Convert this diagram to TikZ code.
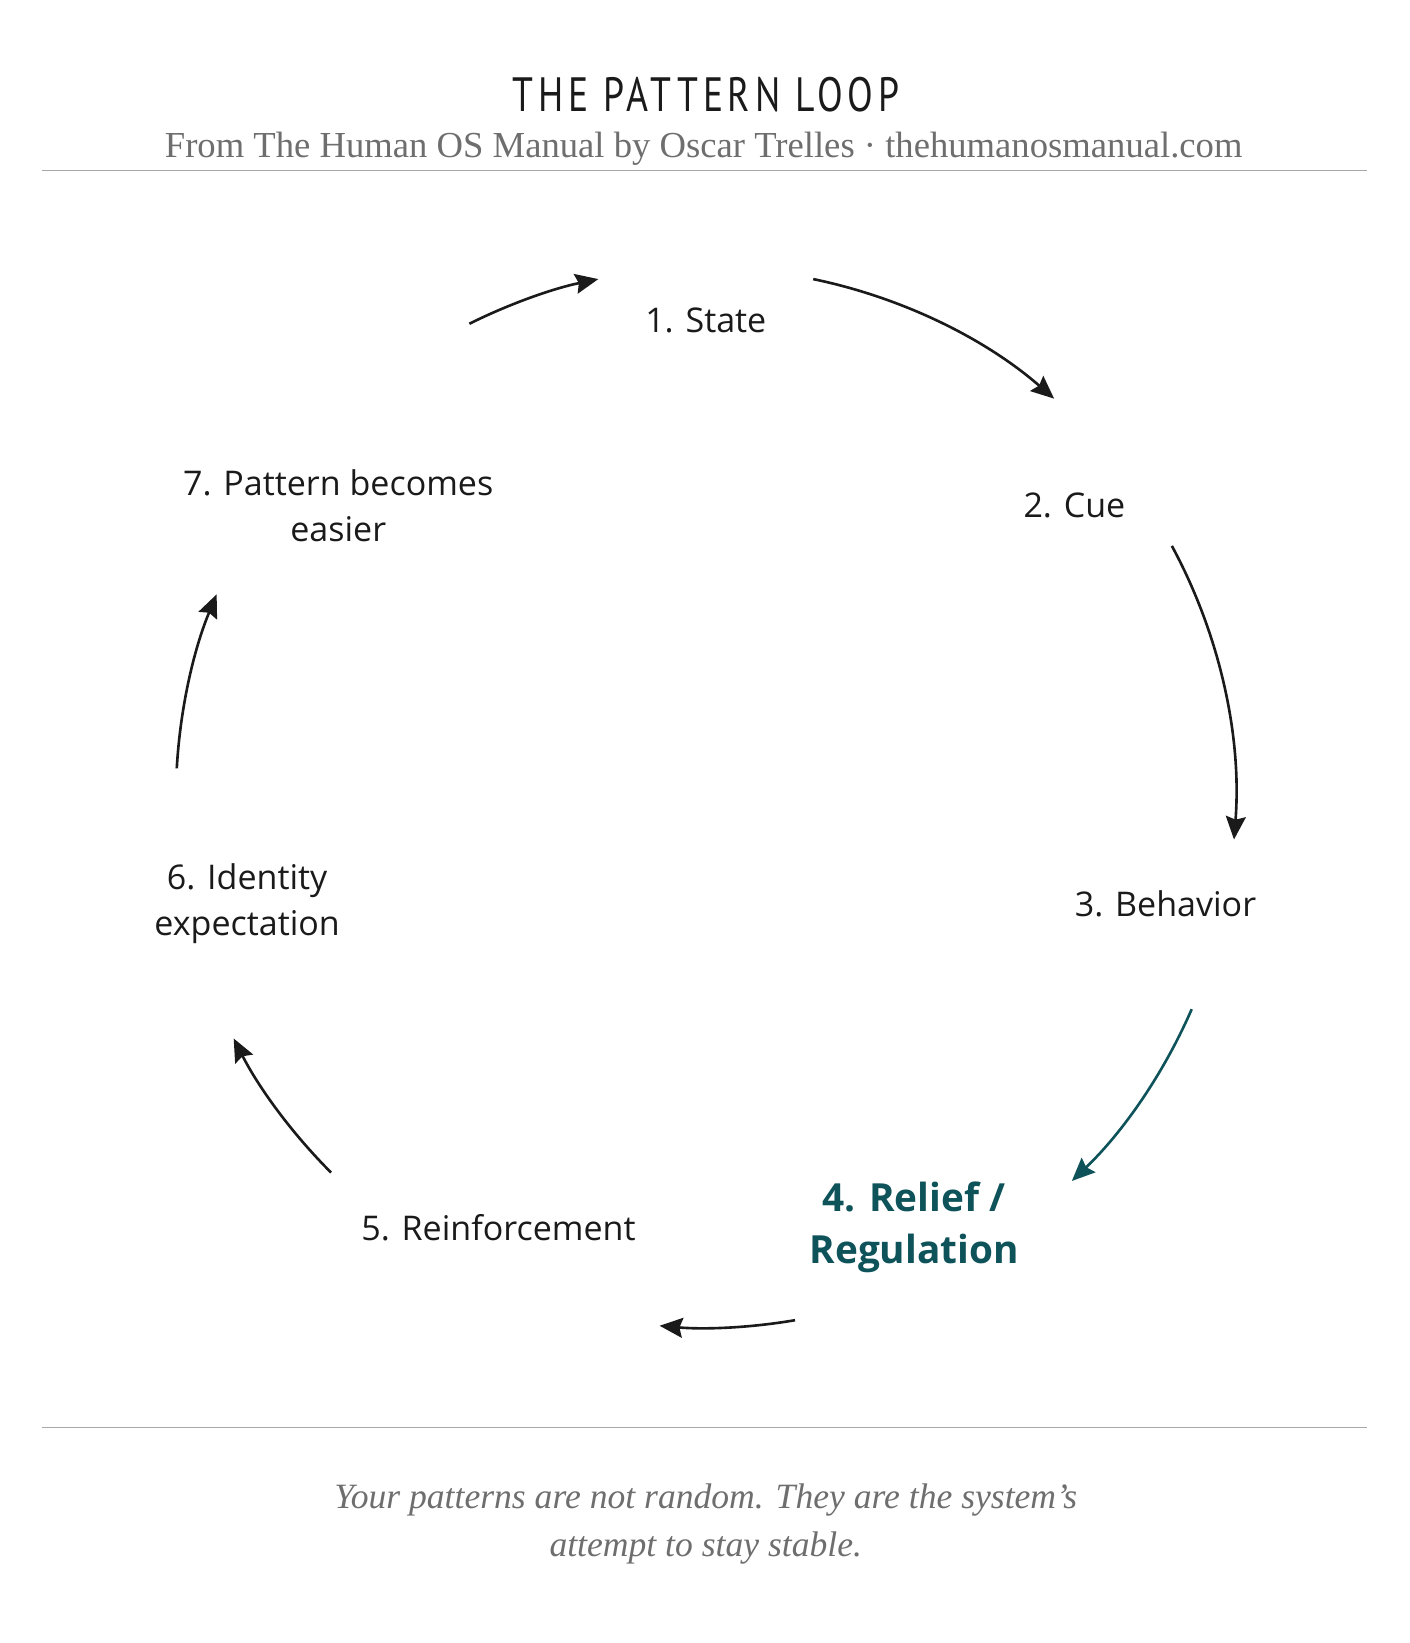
\documentclass[tikz,border=0pt]{standalone}
\usepackage{fontspec}
\setmainfont{Liberation Serif}
\newfontfamily\lab{Open Sans}
\newfontfamily\ttl[FakeStretch=0.78,LetterSpace=10]{PT Sans}
\usetikzlibrary{arrows.meta}
\definecolor{teal1}{HTML}{0E525A}
\definecolor{ink}{HTML}{1A1A1A}
\definecolor{gr}{HTML}{6E6E6E}
\begin{document}
\begin{tikzpicture}[x=1pt,y=1pt,
  lbl/.style={font=\lab\fontsize{32.5}{44}\selectfont,text=ink,align=center},
  arr/.style={line width=2.5pt,draw=ink,-{Stealth[length=22pt,width=19pt,inset=3pt]}},
  rule/.style={draw=gr!60,line width=1pt}]
\useasboundingbox (0,0) rectangle (1346,1569);
\node[font=\ttl\fontsize{46}{50}\selectfont,text=ink] (title) at (674,1479) {THE PATTERN LOOP};
\node[font=\fontsize{35}{40}\selectfont,text=gr] (sub) at (672,1427) {From The Human OS Manual by Oscar Trelles · thehumanosmanual.com};
\coordinate (r1a) at (40,1406); \coordinate (r1b) at (1305,1406);
\draw[rule] (r1a) -- (r1b);
\coordinate (r2a) at (40,206); \coordinate (r2b) at (1305,206);
\draw[rule] (r2a) -- (r2b);
\node[lbl] (n1) at (674,1263) {1. State};
\node[lbl] (n2) at (1026,1086) {2. Cue};
\node[lbl] (n3) at (1113,706) {3. Behavior};
\node[lbl,font=\lab\bfseries\fontsize{37}{50}\selectfont,text=teal1] (n4) at (873,397) {4. Relief /\\Regulation};
\node[lbl] (n5) at (476,397) {5. Reinforcement};
\node[lbl] (n6) at (236,706) {6. Identity\\expectation};
\node[lbl] (n7) at (323,1086) {7. Pattern becomes\\easier};
\coordinate (c) at (674,807);
\foreach \nm/\s in {a1/78.3,a2/28.4,a3/-23.5,a4/-80.3,a5/-135,a6/176.8,a7/116.5}{\coordinate (\nm) at ([shift={(\s:506)}]c);}
\draw[arr] (a1) arc[start angle=78.3,end angle=48.9,radius=506];
\draw[arr] (a2) arc[start angle=28.4,end angle=-4.5,radius=506];
\draw[arr,draw=teal1,color=teal1] (a3) arc[start angle=-23.5,end angle=-46.3,radius=506];
\draw[arr] (a4) arc[start angle=-80.3,end angle=-95,radius=506];
\draw[arr] (a5) arc[start angle=-135,end angle=-153,radius=506];
\draw[arr] (a6) arc[start angle=176.8,end angle=157.4,radius=506];
\draw[arr] (a7) arc[start angle=116.5,end angle=101.7,radius=506];
\node[font=\itshape\fontsize{34}{46}\selectfont,text=gr,align=center] (foot) at (674,114) {Your patterns are not random. They are the system’s\\attempt to stay stable.};
\end{tikzpicture}
\end{document}
